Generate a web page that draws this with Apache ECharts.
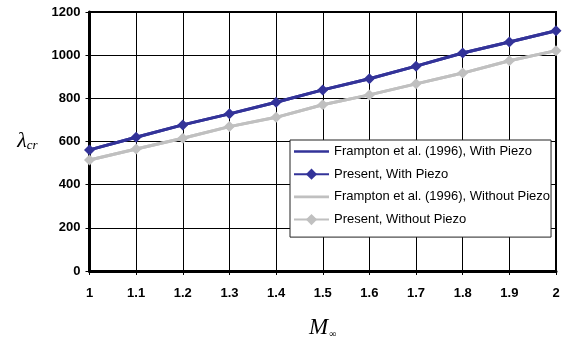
<!DOCTYPE html>
<html>
<head>
<meta charset="utf-8">
<script src="https://cdn.jsdelivr.net/npm/echarts@6/dist/echarts.min.js"></script>
<style>html,body{margin:0;padding:0;background:#fff}#c{width:569px;height:347px}</style>
</head>
<body>
<div id="c"></div>
<script>
var machNumbers = [1, 1.1, 1.2, 1.3, 1.4, 1.5, 1.6, 1.7, 1.8, 1.9, 2];
var framptonWithPiezo = [561, 620, 677, 728, 782, 839, 891, 949, 1010, 1061, 1113];
var presentWithPiezo = [561, 620, 677, 728, 782, 839, 891, 949, 1010, 1061, 1113];
var framptonWithoutPiezo = [514, 565, 615, 669, 712, 770, 816, 867, 917, 974, 1021];
var presentWithoutPiezo = [514, 565, 615, 669, 712, 770, 816, 867, 917, 974, 1021];
var seriesNames = ['Frampton et al. (1996), With Piezo', 'Present, With Piezo', 'Frampton et al. (1996), Without Piezo', 'Present, Without Piezo'];

function pairs(xs, ys) { return xs.map(function (x, i) { return [x, ys[i]]; }); }

var BLUE = '#333399', GRAY = '#c0c0c0';
var LINE_ICON = 'path://M0,0H35V2.6H0Z';
var chart = echarts.init(document.getElementById('c'), null, {renderer: 'canvas'});
var labelFont = {fontFamily: 'Liberation Sans, Arial, sans-serif', fontWeight: 'bold', fontSize: 13, color: '#000'};
chart.setOption({
  animation: false,
  backgroundColor: '#fff',
  grid: {left: 89.5, right: 13, top: 12, bottom: 76, show: true, borderColor: '#000', borderWidth: 2, backgroundColor: 'transparent'},
  xAxis: {
    type: 'value', min: 1, max: 2, interval: 0.1,
    name: '{m|M}{s|∞}', nameLocation: 'middle', nameGap: 45,
    nameTextStyle: {rich: {m: {fontFamily: 'Liberation Serif, Times New Roman, serif', fontStyle: 'italic', fontSize: 23, color: '#000'}, s: {fontFamily: 'Liberation Serif, serif', fontSize: 10, color: '#000', verticalAlign: 'bottom', padding: [9, 0, 0, 1]}}},
    axisLine: {show: true, onZero: false, lineStyle: {color: '#000', width: 3}},
    axisTick: {show: true, inside: false, length: 4, lineStyle: {color: '#000', width: 1}},
    axisLabel: Object.assign({margin: 16, formatter: function (v) { return String(+v.toFixed(1)); }}, labelFont),
    splitLine: {show: true, lineStyle: {color: '#000', width: 1}}
  },
  yAxis: {
    type: 'value', min: 0, max: 1200, interval: 200,
    name: '{l|λ}{s|cr}', nameLocation: 'middle', nameRotate: 0, nameGap: 52,
    nameTextStyle: {align: 'right', rich: {l: {fontFamily: 'Liberation Serif, Times New Roman, serif', fontStyle: 'italic', fontSize: 22, color: '#000'}, s: {fontFamily: 'Liberation Serif, serif', fontStyle: 'italic', fontSize: 13, color: '#000', padding: [8, 0, 0, 0]}}},
    axisLine: {show: true, lineStyle: {color: '#000', width: 3}},
    axisTick: {show: true, inside: false, length: 4, lineStyle: {color: '#000', width: 1}},
    axisLabel: Object.assign({margin: 9, formatter: function (v) { return String(v); }}, labelFont),
    splitLine: {show: true, lineStyle: {color: '#000', width: 1}}
  },
  legend: {
    orient: 'vertical', left: 290, top: 140,
    padding: [5, 1, 11, 3], itemGap: 9.7, itemWidth: 35, itemHeight: 14,
    backgroundColor: '#fff', borderColor: '#222', borderWidth: 1,
    textStyle: {fontFamily: 'Liberation Sans, Arial, sans-serif', fontSize: 13, color: '#000'},
    data: [
      {name: seriesNames[0], icon: LINE_ICON},
      {name: seriesNames[1]},
      {name: seriesNames[2], icon: LINE_ICON},
      {name: seriesNames[3]}
    ]
  },
  series: [
    {name: seriesNames[0], type: 'line', data: pairs(machNumbers, framptonWithPiezo), symbol: 'none', lineStyle: {color: BLUE, width: 3}, itemStyle: {color: BLUE}, z: 3},
    {name: seriesNames[1], type: 'line', data: pairs(machNumbers, presentWithPiezo), symbol: 'diamond', symbolSize: 11, lineStyle: {color: BLUE, width: 3}, itemStyle: {color: BLUE}, z: 4},
    {name: seriesNames[2], type: 'line', data: pairs(machNumbers, framptonWithoutPiezo), symbol: 'none', lineStyle: {color: GRAY, width: 3}, itemStyle: {color: GRAY}, z: 3},
    {name: seriesNames[3], type: 'line', data: pairs(machNumbers, presentWithoutPiezo), symbol: 'diamond', symbolSize: 11, lineStyle: {color: GRAY, width: 3}, itemStyle: {color: GRAY}, z: 4}
  ]
});
</script>
</body>
</html>
